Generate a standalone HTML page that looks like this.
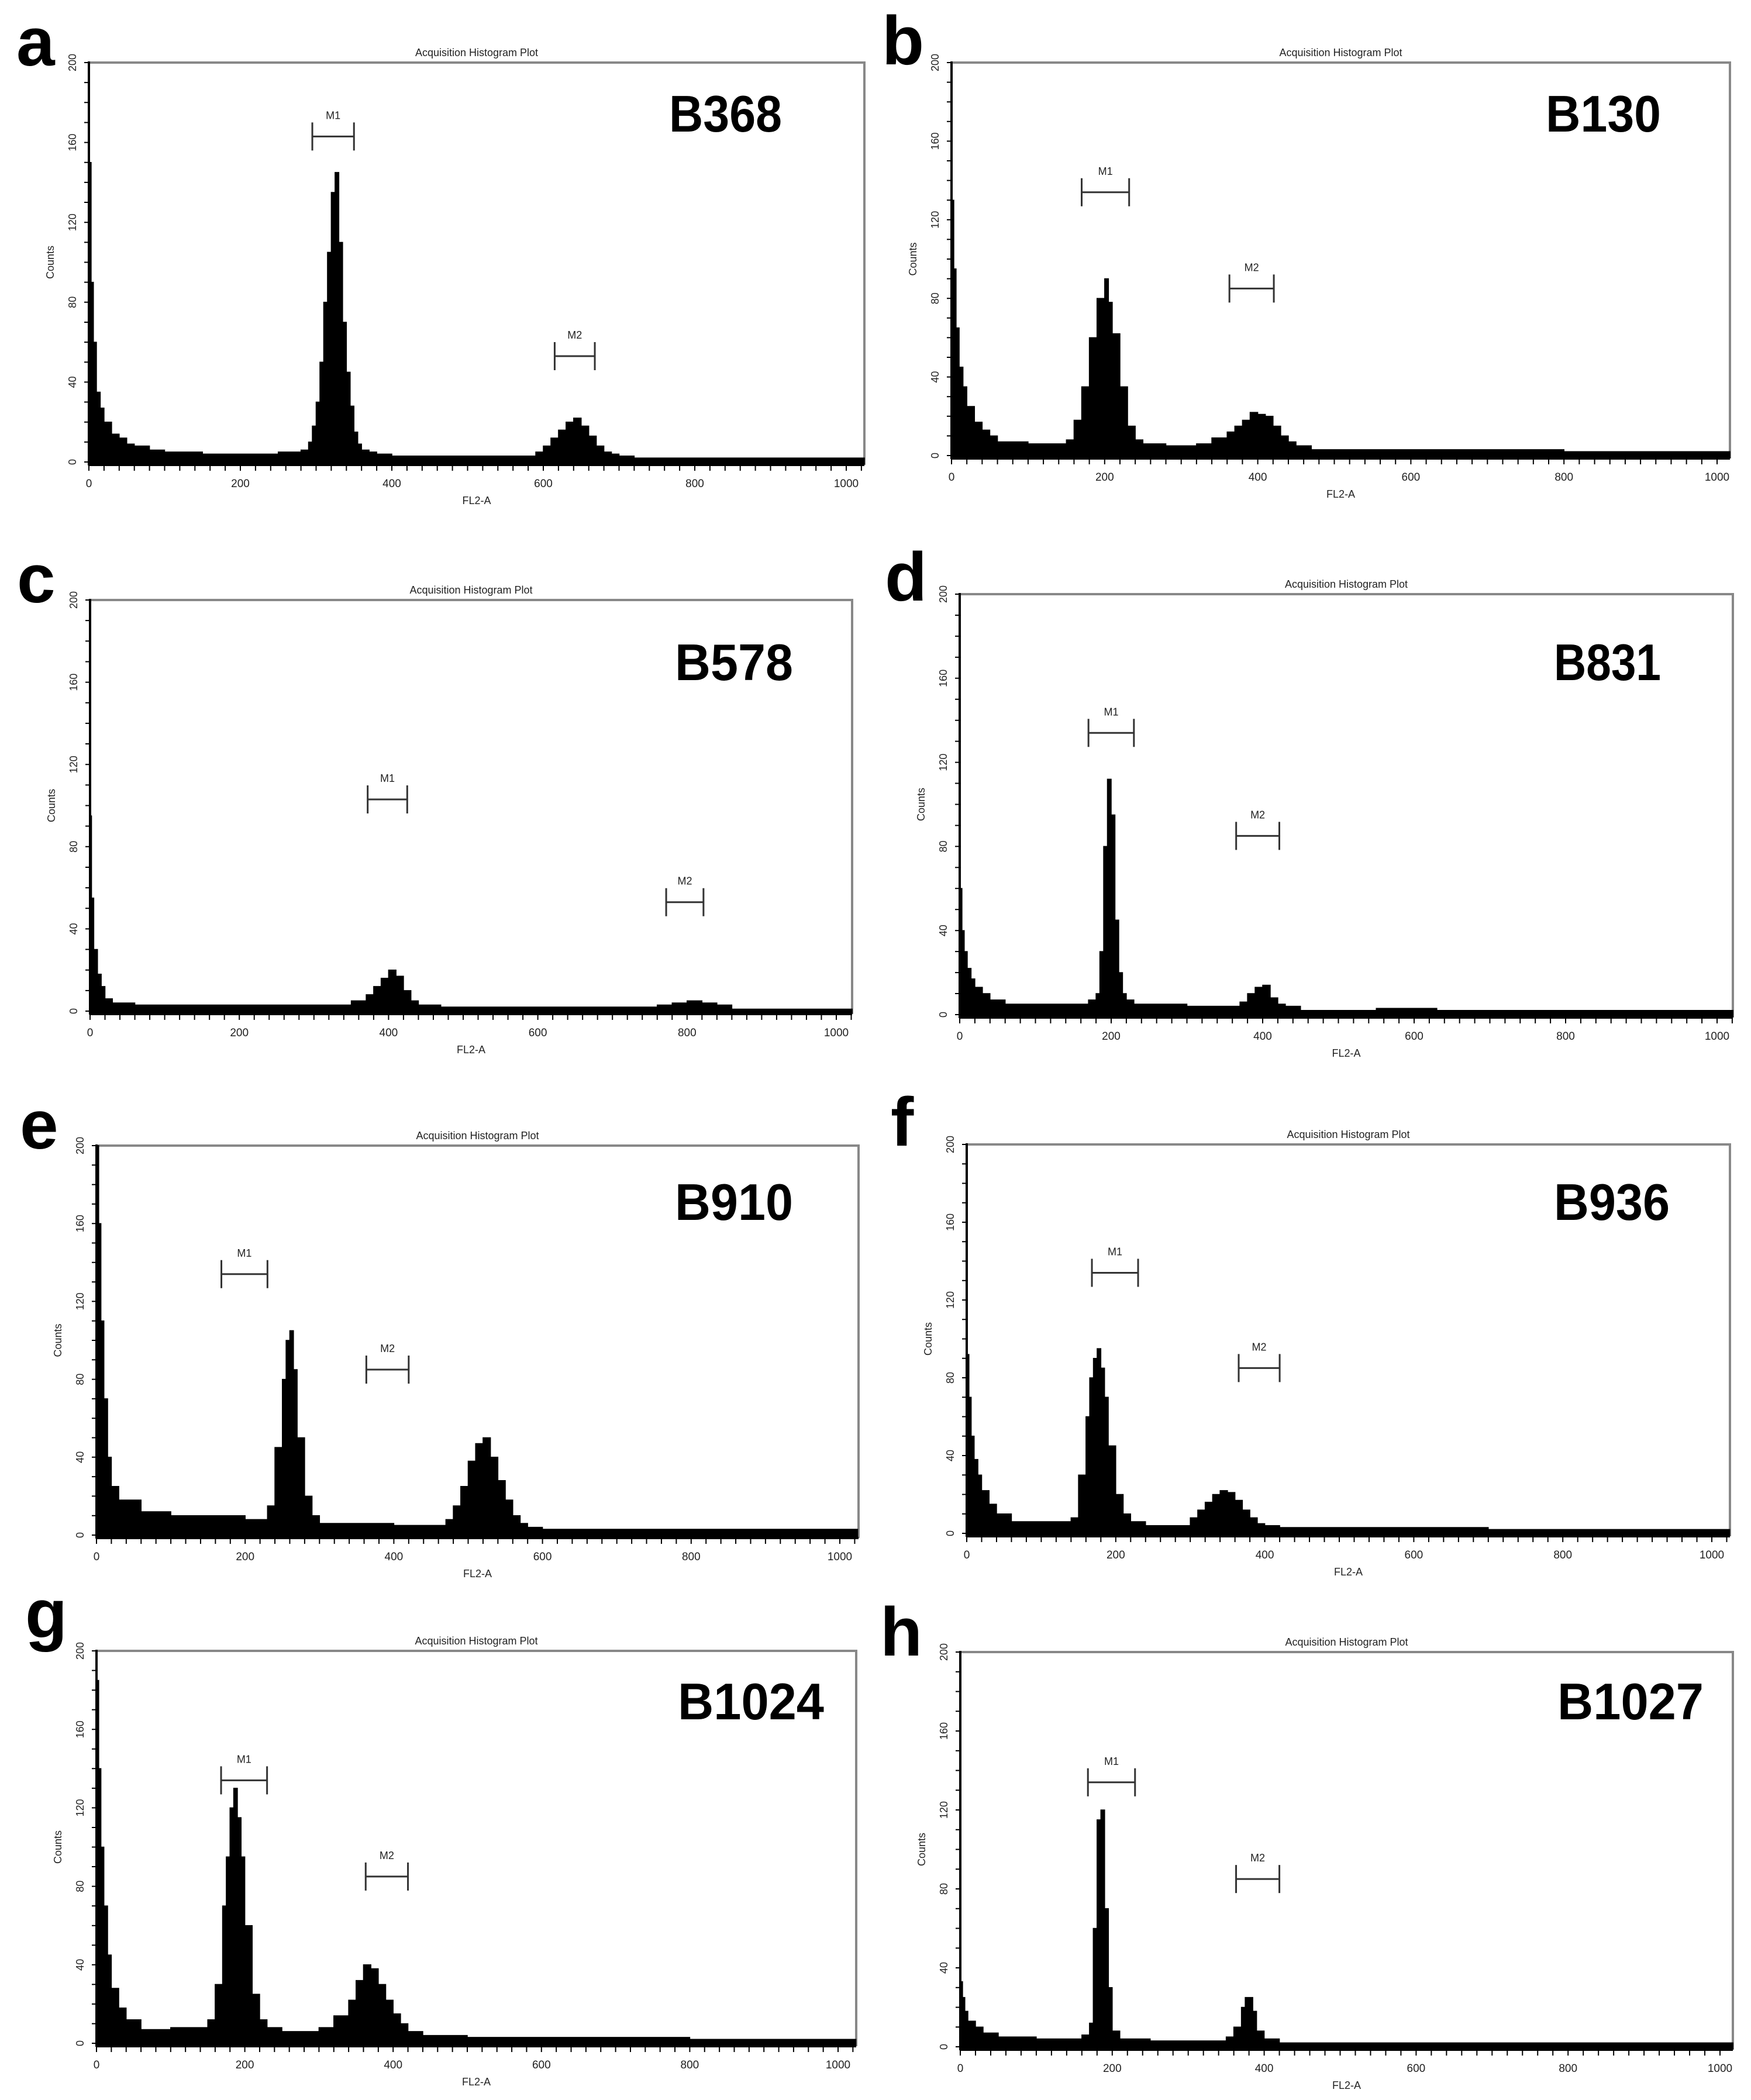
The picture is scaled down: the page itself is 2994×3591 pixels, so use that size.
<!DOCTYPE html>
<html><head><meta charset="utf-8">
<style>
html,body{margin:0;padding:0;background:#fff;}
svg{display:block;}
text{font-family:"Liberation Sans",sans-serif;}
</style></head>
<body>
<svg id="fig" width="2994" height="3591" viewBox="0 0 2994 3591" xmlns="http://www.w3.org/2000/svg"></svg>
<script>
// ---- data: bin edges (FL2-A channel) and counts per panel ----
const xTicks=[0,200,400,600,800,1000];
const yTicks=[0,40,80,120,160,200];

const aEdges=[0,3,6,10,15,20,30,40,50,60,80,100,150,200,250,280,290,295,300,305,310,315,320,325,330,335,340,345,350,355,360,370,380,400,450,500,550,590,600,610,620,630,640,650,660,670,680,690,700,720,800,900,1024];
const aCounts=[150,90,60,35,27,20,14,12,9,8,6,5,4,4,5,6,10,18,30,50,80,105,135,145,110,70,45,28,15,9,6,5,4,3,3,3,3,5,8,12,16,20,22,18,13,8,5,4,3,2,2,2];

const bEdges=[0,3,6,10,15,20,30,40,50,60,80,100,150,160,170,180,190,200,205,210,220,230,240,250,280,320,340,360,370,380,390,400,410,420,430,440,450,470,500,600,700,800,1024];
const bCounts=[130,95,65,45,35,25,17,13,10,7,7,6,8,18,35,60,80,90,78,62,35,15,8,6,5,6,9,12,15,18,22,21,20,15,10,7,5,3,3,3,3,2];

const cEdges=[0,2,5,10,15,20,30,60,200,250,350,370,380,390,400,410,420,430,440,470,500,700,760,780,800,820,840,860,1024];
const cCounts=[95,55,30,18,12,6,4,3,3,3,5,8,12,16,20,17,10,5,3,2,2,2,3,4,5,4,3,1];

const dEdges=[0,3,6,10,15,20,30,40,60,100,170,180,185,190,195,200,205,210,215,220,230,300,370,380,390,400,410,420,430,450,550,630,1024];
const dCounts=[60,40,30,22,17,13,10,7,5,5,7,10,30,80,112,95,45,20,10,7,5,4,6,10,13,14,8,5,4,2,3,2];

const eEdges=[0,3,6,10,15,20,30,40,60,100,200,230,240,250,255,260,265,270,280,290,300,400,470,480,490,500,510,520,530,540,550,560,570,580,600,1024];
const eCounts=[200,160,110,70,40,25,18,18,12,10,8,15,45,80,100,105,85,50,20,10,6,5,8,15,25,38,47,50,40,28,18,10,6,4,3];

const fEdges=[0,3,6,10,15,20,30,40,60,100,140,150,160,165,170,175,180,185,190,200,210,220,240,300,310,320,330,340,350,360,370,380,390,400,420,500,700,1024];
const fCounts=[92,70,50,38,30,22,15,10,6,6,8,30,60,80,90,95,85,70,45,20,10,6,4,8,12,16,20,22,21,17,12,8,5,4,3,3,2];

const gEdges=[0,3,6,10,15,20,30,40,60,100,150,160,170,175,180,185,190,195,200,210,220,230,250,300,320,340,350,360,370,380,390,400,410,420,440,500,700,800,1024];
const gCounts=[185,140,100,70,45,28,18,12,7,8,12,30,70,95,120,130,115,95,60,25,12,8,6,8,14,22,32,40,38,30,22,15,10,6,4,3,3,2];

const hEdges=[0,3,6,10,20,30,50,100,160,170,175,180,185,190,195,200,210,250,350,360,370,375,385,390,400,420,1024];
const hCounts=[33,25,18,13,10,7,5,4,6,12,60,115,120,70,30,8,4,3,5,10,20,25,18,8,4,2];

// gate markers: [start, end, count level]
const aM1=[295,350,163], aM2=[615,668,53];
const bM1=[170,232,134], bM2=[363,421,85];
const cM1=[372,425,103], cM2=[772,822,53];
const dM1=[170,230,134], dM2=[365,422,85];
const eM1=[168,230,134], eM2=[363,420,85];
const fM1=[168,230,134], fM2=[365,420,85];
const gM1=[168,230,134], gM2=[363,420,85];
const hM1=[168,230,134], hM2=[363,420,85];

const panels=[
 {id:'a',name:'B368',edges:aEdges,counts:aCounts,m1:aM1,m2:aM2,g:{x0:152,x1k:1447,right:1478,top:107,y0:790},L:{x:28,y:112},N:{x:1144,y:225,w:193}},
 {id:'b',name:'B130',edges:bEdges,counts:bCounts,m1:bM1,m2:bM2,g:{x0:1627,x1k:2936,right:2958,top:107,y0:779},L:{x:1508,y:110},N:{x:2643,y:225,w:197}},
 {id:'c',name:'B578',edges:cEdges,counts:cCounts,m1:cM1,m2:cM2,g:{x0:154,x1k:1430,right:1457,top:1026,y0:1729},L:{x:29,y:1030},N:{x:1154,y:1163,w:202}},
 {id:'d',name:'B831',edges:dEdges,counts:dCounts,m1:dM1,m2:dM2,g:{x0:1641,x1k:2936,right:2963,top:1016,y0:1735},L:{x:1513,y:1027},N:{x:2657,y:1163,w:183}},
 {id:'e',name:'B910',edges:eEdges,counts:eCounts,m1:eM1,m2:eM2,g:{x0:165,x1k:1436,right:1468,top:1959,y0:2625},L:{x:34,y:1964},N:{x:1154,y:2086,w:202}},
 {id:'f',name:'B936',edges:fEdges,counts:fCounts,m1:fM1,m2:fM2,g:{x0:1653,x1k:2927,right:2958,top:1957,y0:2622},L:{x:1523,y:1959},N:{x:2657,y:2086,w:198}},
 {id:'g',name:'B1024',edges:gEdges,counts:gCounts,m1:gM1,m2:gM2,g:{x0:165,x1k:1433,right:1464,top:2823,y0:3494},L:{x:43,y:2800},N:{x:1159,y:2940,w:250}},
 {id:'h',name:'B1027',edges:hEdges,counts:hCounts,m1:hM1,m2:hM2,g:{x0:1642,x1k:2941,right:2963,top:2825,y0:3500},L:{x:1505,y:2831},N:{x:2663,y:2940,w:250}}
];

const NS='http://www.w3.org/2000/svg';
const svg=document.getElementById('fig');
function mk(tag,attrs,parent){const e=document.createElementNS(NS,tag);for(const k in attrs)e.setAttribute(k,attrs[k]);(parent||svg).appendChild(e);return e;}

panels.forEach(p=>{
  const G=p.g;
  const xS=v=>G.x0+v*(G.x1k-G.x0)/1000;
  const yS=c=>G.y0-Math.min(c,200)*(G.y0-G.top)/200;
  const grp=mk('g',{});
  
  

  // panel letter
  const lt=mk('text',{x:p.L.x,y:p.L.y,'font-size':118,'font-weight':'bold',fill:'#000'},grp);
  lt.textContent=p.id;
  
  

  // title
  const tt=mk('text',{x:(G.x0+G.right)/2,y:G.top-11,'font-size':18,'text-anchor':'middle',fill:'#222'},grp);
  tt.textContent='Acquisition Histogram Plot';
  
  

  // frame (top and right gray)
  const fr=mk('path',{d:`M${G.x0} ${G.top} H${G.right} V${G.y0+5}`,fill:'none',stroke:'#888','stroke-width':4},grp);
  
  

  // histogram polygon
  let d=`M${xS(p.edges[0])} ${G.y0+4}`;
  for(let i=0;i<p.counts.length;i++){
    const xa=xS(p.edges[i]), xb=Math.min(xS(p.edges[i+1]),G.right);
    const y=yS(p.counts[i]);
    d+=` L${xa} ${y} L${xb} ${y}`;
  }
  d+=` L${Math.min(xS(p.edges[p.edges.length-1]),G.right)} ${G.y0+4} Z`;
  const h=mk('path',{d:d,fill:'#000',stroke:'#000','stroke-width':1.5},grp);
  
  

  // axes
  const ya=mk('line',{x1:G.x0,y1:G.top-2,x2:G.x0,y2:G.y0+6,stroke:'#000','stroke-width':4},grp);
  
  
  const xa=mk('line',{x1:G.x0,y1:G.y0+5,x2:G.right,y2:G.y0+5,stroke:'#000','stroke-width':4},grp);
  
  

  // minor ticks
  let td='';
  for(let c=0;c<=200;c+=10){const y=yS(c);td+=`M${G.x0-8} ${y} H${G.x0}`;}
  for(let v=0;v<=1020;v+=20){const x=xS(v);if(x<=G.right)td+=`M${x} ${G.y0+5} V${G.y0+15}`;}
  const tk=mk('path',{d:td,stroke:'#000','stroke-width':2},grp);
  
  

  // y tick labels
  yTicks.forEach(c=>{
    const y=yS(c), x=G.x0-22;
    const t=mk('text',{x:x,y:y,'font-size':18,'text-anchor':'middle',fill:'#222',transform:`rotate(-90 ${x} ${y})`},grp);
    t.textContent=c;
    
    
  });
  // x tick labels
  xTicks.forEach(v=>{
    const t=mk('text',{x:xS(v),y:G.y0+43,'font-size':19,'text-anchor':'middle',fill:'#222'},grp);
    t.textContent=v;
    
    
  });
  // axis titles
  const cy=(G.top+G.y0)/2, cx=G.x0-60;
  const yt=mk('text',{x:cx,y:cy,'font-size':18,'text-anchor':'middle',fill:'#222',transform:`rotate(-90 ${cx} ${cy})`},grp);
  yt.textContent='Counts';
  
  
  const xt=mk('text',{x:(G.x0+G.right)/2,y:G.y0+72,'font-size':18,'text-anchor':'middle',fill:'#222'},grp);
  xt.textContent='FL2-A';
  
  

  // sample name
  const nm=mk('text',{x:p.N.x,y:p.N.y,'font-size':88,'font-weight':'bold',fill:'#000',textLength:p.N.w,lengthAdjust:'spacingAndGlyphs'},grp);
  nm.textContent=p.name;
  
  

  // markers
  [['M1',p.m1],['M2',p.m2]].forEach(([lab,m])=>{
    const x1=xS(m[0]), x2=xS(m[1]), y=yS(m[2]);
    const mg=mk('path',{d:`M${x1} ${y} H${x2} M${x1} ${y-24} V${y+24} M${x2} ${y-24} V${y+24}`,stroke:'#333','stroke-width':3,fill:'none'},grp);
    
    
    const ml=mk('text',{x:(x1+x2)/2,y:y-30,'font-size':18,'text-anchor':'middle',fill:'#222'},grp);
    ml.textContent=lab;
    
    
  });
});
</script>
</body></html>
